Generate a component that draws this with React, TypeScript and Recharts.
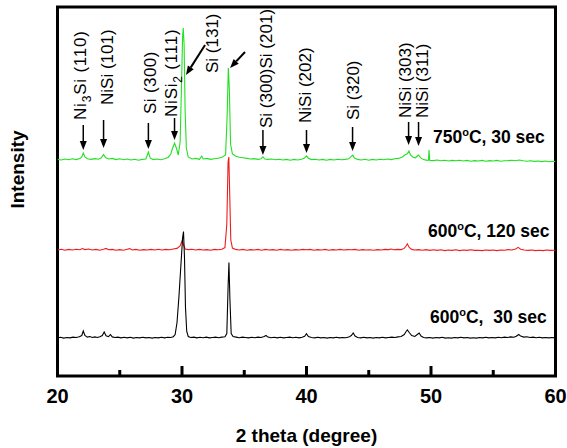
import React from 'react';
import { LineChart, Line, XAxis, YAxis, ReferenceArea, ReferenceLine, ReferenceDot } from 'recharts';

const FONT = '"Liberation Sans", Arial, Helvetica, sans-serif';

// 2θ (degree) vs. counts above background, one scan per anneal
const SCAN_600C_30S: [number, number][] = [
  [20.0, -4], [20.25, 2], [20.5, -6], [20.75, 0], [21.0, -4], [21.25, 4], [21.5, 0], [21.75, 8], [21.95, 20],
  [22.07, 65], [22.2, 20], [22.4, 4], [22.6, 10], [22.8, 0], [23.0, 6], [23.2, 0], [23.4, 8], [23.6, 20],
  [23.75, 55], [23.9, 18], [24.1, 8], [24.25, 30], [24.4, 6], [24.6, 0], [24.85, 4], [25.1, -4], [25.35, 2],
  [25.6, -4], [25.85, 2], [26.1, -6], [26.35, 0], [26.6, -4], [26.85, 2], [27.1, -4], [27.35, 0], [27.6, -6],
  [27.85, 0], [28.1, -4], [28.35, 2], [28.6, -4], [28.85, 2], [29.1, 0], [29.3, 8], [29.45, 30], [29.6, 150],
  [29.75, 400], [29.9, 700], [30.05, 1000], [30.12, 1060], [30.2, 800], [30.28, 300], [30.38, 60], [30.5, 10],
  [30.7, 0], [30.95, 4], [31.2, -4], [31.45, 2], [31.7, -2], [31.95, 4], [32.2, -4], [32.45, 0], [32.7, 4],
  [32.95, -2], [33.2, 4], [33.45, 8], [33.6, 40], [33.7, 500], [33.77, 750], [33.85, 380], [33.95, 40],
  [34.1, 10], [34.35, 4], [34.6, -2], [34.85, 4], [35.1, 0], [35.35, -4], [35.6, 2], [35.85, -2], [36.1, 4],
  [36.35, 0], [36.6, 10], [36.75, 20], [36.9, 4], [37.15, -2], [37.4, 2], [37.65, -4], [37.9, 2], [38.15, -4],
  [38.4, 0], [38.65, 4], [38.9, -2], [39.15, 2], [39.4, -4], [39.65, 2], [39.85, 12], [40.0, 38], [40.15, 10],
  [40.4, 0], [40.65, -4], [40.9, 2], [41.15, -4], [41.4, 0], [41.65, -6], [41.9, 0], [42.15, -4], [42.4, 2],
  [42.65, -4], [42.9, 0], [43.15, -2], [43.4, 4], [43.6, 20], [43.75, 45], [43.9, 14], [44.1, 0], [44.35, -4],
  [44.6, 2], [44.85, -4], [45.1, 0], [45.35, -6], [45.6, 0], [45.85, -4], [46.1, 2], [46.35, -4], [46.6, 0],
  [46.85, 4], [47.1, 0], [47.35, 6], [47.6, 10], [47.85, 30], [48.0, 60], [48.1, 75], [48.25, 50], [48.45, 20],
  [48.7, 10], [48.9, 30], [49.05, 45], [49.2, 14], [49.4, 0], [49.65, -4], [49.9, 0], [50.15, -6], [50.4, 0],
  [50.65, -4], [50.9, 2], [51.15, -6], [51.4, -2], [51.65, -6], [51.9, 0], [52.15, -4], [52.4, 2], [52.65, -4],
  [52.9, 0], [53.15, -6], [53.4, -2], [53.65, -6], [53.9, 0], [54.15, -4], [54.4, 2], [54.65, -4], [54.9, 0],
  [55.15, -4], [55.4, 2], [55.65, -2], [55.9, 4], [56.15, 0], [56.4, 6], [56.65, 2], [56.85, 12], [57.05, 30],
  [57.2, 14], [57.45, 4], [57.7, 8], [57.95, 0], [58.2, 4], [58.45, -2], [58.7, 2], [58.95, -4], [59.2, 0],
  [59.45, -4], [59.7, 0], [60.0, -2],
];

const SCAN_600C_120S: [number, number][] = [
  [20.0, 0], [20.3, 8], [20.6, -2], [20.9, 6], [21.2, 0], [21.5, 8], [21.8, 2], [22.0, 14], [22.2, 4],
  [22.5, 10], [22.8, 0], [23.1, 6], [23.4, -2], [23.7, 8], [23.9, 16], [24.1, 2], [24.4, 6], [24.7, -2],
  [25.0, 4], [25.3, -2], [25.6, 8], [25.8, 14], [26.0, 0], [26.3, 6], [26.6, -2], [26.9, 4], [27.2, 0],
  [27.5, 6], [27.8, 0], [28.1, 8], [28.4, 0], [28.7, 6], [29.0, 2], [29.3, 10], [29.6, 16], [29.85, 40],
  [30.0, 90], [30.1, 60], [30.25, 10], [30.5, 4], [30.8, 8], [31.1, 0], [31.4, 6], [31.7, 0], [32.0, 4],
  [32.3, -2], [32.6, 6], [32.9, 2], [33.2, 8], [33.45, 24], [33.6, 260], [33.7, 880], [33.76, 930],
  [33.84, 520], [33.92, 100], [34.05, 20], [34.3, 6], [34.6, 0], [34.9, 6], [35.2, -2], [35.5, 4], [35.8, 0],
  [36.1, 6], [36.4, -2], [36.7, 6], [37.0, 0], [37.3, 4], [37.6, -2], [37.9, 6], [38.2, 0], [38.5, 4],
  [38.8, -2], [39.1, 4], [39.4, 0], [39.7, 6], [40.0, 2], [40.3, 6], [40.6, -2], [40.9, 4], [41.2, 0],
  [41.5, 6], [41.8, -2], [42.1, 4], [42.4, 0], [42.7, 6], [43.0, 0], [43.3, 4], [43.6, 2], [43.9, 6],
  [44.2, -2], [44.5, 4], [44.8, 0], [45.1, 2], [45.4, -2], [45.7, 4], [46.0, 0], [46.3, 6], [46.6, 4],
  [46.8, 10], [47.0, 2], [47.3, 6], [47.6, 4], [47.85, 16], [48.0, 40], [48.1, 62], [48.25, 26], [48.45, 6],
  [48.7, 0], [49.0, 4], [49.3, -2], [49.6, 4], [49.9, -4], [50.2, 2], [50.5, -4], [50.8, 2], [51.1, -6],
  [51.4, 0], [51.7, -4], [52.0, 2], [52.3, -6], [52.6, 0], [52.9, -4], [53.2, 2], [53.5, -4], [53.8, -2],
  [54.1, -6], [54.4, 0], [54.7, -4], [55.0, 0], [55.3, -6], [55.6, 0], [55.9, -2], [56.2, 4], [56.5, 0],
  [56.8, 10], [57.0, 26], [57.2, 8], [57.5, 0], [57.8, -4], [58.1, 0], [58.4, -6], [58.7, -2], [59.0, -6],
  [59.3, 0], [59.6, -4], [60.0, -2],
];

const SCAN_750C_30S: [number, number][] = [
  [20.0, 6], [20.3, 0], [20.6, 10], [20.9, 2], [21.2, 12], [21.5, 4], [21.8, 14], [21.95, 30], [22.07, 70],
  [22.2, 30], [22.4, 12], [22.7, 6], [23.0, 14], [23.3, 8], [23.5, 20], [23.7, 55], [23.85, 24], [24.1, 10],
  [24.4, 16], [24.7, 4], [25.0, 12], [25.3, 2], [25.6, 10], [25.9, 0], [26.2, 8], [26.5, -2], [26.8, 6],
  [27.1, 10], [27.3, 80], [27.45, 18], [27.7, 4], [28.0, 10], [28.3, 2], [28.6, 12], [28.9, 28], [29.1, 60],
  [29.25, 120], [29.4, 170], [29.55, 120], [29.7, 50], [29.85, 180], [29.95, 700], [30.05, 1240], [30.1, 1320],
  [30.17, 1150], [30.25, 500], [30.35, 120], [30.5, 30], [30.8, 10], [31.1, 16], [31.4, 6], [31.58, 40],
  [31.7, 10], [32.0, 16], [32.3, 6], [32.6, 12], [32.9, 18], [33.2, 28], [33.5, 50], [33.62, 420],
  [33.72, 920], [33.8, 720], [33.9, 160], [34.05, 60], [34.3, 40], [34.6, 28], [34.9, 22], [35.2, 16],
  [35.5, 10], [35.8, 14], [36.1, 6], [36.35, 12], [36.5, 32], [36.65, 10], [36.9, 6], [37.2, 10], [37.5, 2],
  [37.8, 8], [38.1, 0], [38.4, 6], [38.7, -2], [39.0, 6], [39.3, 0], [39.6, 8], [39.85, 20], [40.0, 42],
  [40.15, 18], [40.4, 4], [40.7, 8], [41.0, 0], [41.3, 6], [41.6, -2], [41.9, 6], [42.2, 0], [42.5, 8],
  [42.8, 2], [43.1, 6], [43.4, 12], [43.6, 36], [43.72, 48], [43.85, 20], [44.1, 6], [44.4, 0], [44.7, 8],
  [45.0, -2], [45.3, 6], [45.6, 0], [45.9, 8], [46.2, 2], [46.5, 10], [46.8, 4], [47.1, 12], [47.4, 16],
  [47.7, 30], [47.95, 55], [48.1, 62], [48.23, 90], [48.35, 50], [48.55, 28], [48.75, 22], [48.9, 40],
  [49.0, 50], [49.15, 24], [49.4, 4], [49.7, -4], [49.8, 0], [49.84, 100], [49.9, -4], [50.2, -6], [50.5, 0],
  [50.8, -8], [51.1, -2], [51.4, -10], [51.7, -4], [52.0, -8], [52.3, -2], [52.6, -10], [52.9, -4],
  [53.2, -12], [53.5, -6], [53.8, -10], [54.1, -4], [54.4, -12], [54.7, -6], [55.0, -10], [55.3, -4],
  [55.6, -12], [55.9, -8], [56.2, -6], [56.5, -2], [56.8, -8], [57.1, 0], [57.4, -8], [57.7, -12], [58.0, -8],
  [58.3, -14], [58.6, -10], [58.9, -16], [59.2, -10], [59.5, -18], [59.8, -12], [60.0, -16],
];

// vertical offsets used to stack the scans
const OFFSET_600C_30S = 385;
const OFFSET_600C_120S = 1260;
const OFFSET_750C_30S = 2160;

const Y_MAX = 3690;
const X_TICKS = [20, 25, 30, 35, 40, 45, 50, 55, 60];
const MAJOR_TICKS = [20, 30, 40, 50, 60];

// vertical markers over the 750 °C peaks: [2θ, tail, tip]
const PEAK_ARROWS: [number, number, number][] = [
  [22.07, 2510, 2260], [23.7, 2560, 2280], [27.3, 2530, 2270], [29.4, 2580, 2360],
  [36.5, 2460, 2210], [40.0, 2460, 2230], [43.7, 2490, 2250], [48.2, 2540, 2310], [49.0, 2540, 2300],
];

// slanted pointers to the two strong reflections: [2θ tail, y tail, 2θ tip, y tip]
const PEAK_POINTERS: [number, number, number, number][] = [
  [31.85, 3310, 30.32, 3010],
  [35.06, 3240, 33.86, 3080],
];

// reflection labels (pre, subscript, post), anchored at the start of the rotated text
const PHASE_LABELS = [
  { pre: 'Ni', sub: '3', post: 'Si (110)', theta: 21.81, y: 2560, spacing: 0.8 },
  { pre: 'NiSi (101)', sub: '', post: '', theta: 23.98, y: 2710, spacing: 0 },
  { pre: 'Si (300)', sub: '', post: '', theta: 27.43, y: 2620, spacing: 0.4 },
  { pre: 'NiSi', sub: '2', post: ' (111)', theta: 29.12, y: 2590, spacing: 0.8 },
  { pre: 'Si (131)', sub: '', post: '', theta: 32.41, y: 3030, spacing: 0 },
  { pre: 'Si (300)Si (201)', sub: '', post: '', theta: 36.75, y: 2480, spacing: 0 },
  { pre: 'NiSi (202)', sub: '', post: '', theta: 39.88, y: 2530, spacing: 0 },
  { pre: 'Si (320)', sub: '', post: '', theta: 43.73, y: 2560, spacing: 0 },
  { pre: 'NiSi (303)', sub: '', post: '', theta: 47.91, y: 2580, spacing: 0 },
  { pre: 'NiSi (311)', sub: '', post: '', theta: 49.28, y: 2580, spacing: 0 },
];

const SCAN_LABELS = [
  { temp: '750', rest: 'C, 30 sec', theta: 50.16, y: 2330 },
  { temp: '600', rest: 'C, 120 sec', theta: 49.76, y: 1390 },
  { temp: '600', rest: 'C,\u00a0 30 sec', theta: 49.92, y: 533 },
];

const stack = (scan: [number, number][], offset: number) =>
  scan.map(([theta, counts]) => ({ theta, y: counts + offset }));

function XTick({ x, y, payload }: any) {
  const major = MAJOR_TICKS.includes(payload.value);
  return (
    <g>
      <line x1={x} x2={x} y1={y} y2={y - (major ? 10 : 6)} stroke="#000" strokeWidth={3} />
      {major && (
        <text x={x} y={y + 27} textAnchor="middle" fontFamily={FONT} fontWeight="bold" fontSize={20} fill="#000">
          {payload.value}
        </text>
      )}
    </g>
  );
}

function XTitle({ viewBox }: any) {
  return (
    <text x={viewBox.x + viewBox.width / 2} y={viewBox.y + 66} textAnchor="middle"
      fontFamily={FONT} fontWeight="bold" fontSize={19} fill="#000">
      2 theta (degree)
    </text>
  );
}

function YTitle({ viewBox }: any) {
  const x = 17.5;
  const y = viewBox.y + viewBox.height / 2 - 22;
  return (
    <text x={x} y={y} transform={`rotate(-90 ${x} ${y})`} textAnchor="middle" dy="0.35em"
      fontFamily={FONT} fontWeight="bold" fontSize={19} fill="#000">
      Intensity
    </text>
  );
}

function Arrow({ x1, y1, x2, y2, width }: any) {
  const dx = x2 - x1;
  const dy = y2 - y1;
  const len = Math.hypot(dx, dy) || 1;
  const ux = dx / len;
  const uy = dy / len;
  const bx = x2 - ux * 9;
  const by = y2 - uy * 9;
  const h = 3.5;
  return (
    <g>
      <line x1={x1} y1={y1} x2={bx} y2={by} stroke="#000" strokeWidth={width} />
      <polygon points={`${x2},${y2} ${bx - uy * h},${by + ux * h} ${bx + uy * h},${by - ux * h}`} fill="#000" />
    </g>
  );
}

function PhaseText({ cx, cy, pre, sub, post, spacing }: any) {
  return (
    <text x={cx} y={cy} transform={`rotate(-90 ${cx} ${cy})`} dy="0.35em" textAnchor="start"
      fontFamily={FONT} fontSize={17} letterSpacing={spacing} fill="#000">
      {pre}
      {sub && <tspan fontSize={12} dy={5}>{sub}</tspan>}
      {post && <tspan dy={sub ? -5 : 0}>{post}</tspan>}
    </text>
  );
}

function ScanText({ cx, cy, temp, rest }: any) {
  return (
    <text x={cx} y={cy} textAnchor="start" fontFamily={FONT} fontWeight="bold" fontSize={17.5} fill="#000">
      {temp}
      <tspan fontSize={11} dy={-7}>o</tspan>
      <tspan dy={7}>{rest}</tspan>
    </text>
  );
}

export default function App() {
  return (
    <div style={{ position: 'absolute', left: 0, top: 0, width: 567, height: 448, background: '#fff' }}>
      <LineChart width={567} height={448} margin={{ top: 7, right: 11.5, bottom: 0, left: 0 }}>
        <XAxis dataKey="theta" type="number" domain={[20, 60]} ticks={X_TICKS} interval={0}
          tickLine={false} axisLine={false} tickSize={0} tickMargin={0} tick={<XTick />}
          height={72} allowDataOverflow label={<XTitle />} />
        <YAxis type="number" domain={[0, Y_MAX]} tick={false} tickLine={false} axisLine={false}
          width={57.5} allowDataOverflow label={<YTitle />} />
        <ReferenceArea x1={20} x2={60} y1={0} y2={Y_MAX} fill="none" stroke="#000" strokeWidth={3}
          ifOverflow="visible" />
        <Line data={stack(SCAN_600C_120S, OFFSET_600C_120S)} dataKey="y" type="linear" stroke="#ee1c1c"
          strokeWidth={1.1} dot={false} isAnimationActive={false} />
        <Line data={stack(SCAN_600C_30S, OFFSET_600C_30S)} dataKey="y" type="linear" stroke="#000"
          strokeWidth={1.1} dot={false} isAnimationActive={false} />
        <Line data={stack(SCAN_750C_30S, OFFSET_750C_30S)} dataKey="y" type="linear" stroke="#22e022"
          strokeWidth={1.1} dot={false} isAnimationActive={false} />
        {PEAK_ARROWS.map(([theta, tail, tip], i) => (
          <ReferenceLine key={`a${i}`} segment={[{ x: theta, y: tail }, { x: theta, y: tip }]}
            shape={(p: any) => <Arrow {...p} width={1.5} />} ifOverflow="visible" />
        ))}
        {PEAK_POINTERS.map(([t1, y1, t2, y2], i) => (
          <ReferenceLine key={`p${i}`} segment={[{ x: t1, y: y1 }, { x: t2, y: y2 }]}
            shape={(p: any) => <Arrow {...p} width={2} />} ifOverflow="visible" />
        ))}
        {PHASE_LABELS.map((l, i) => (
          <ReferenceDot key={`l${i}`} x={l.theta} y={l.y} r={1} ifOverflow="visible"
            shape={(p: any) => (
              <PhaseText cx={p.cx} cy={p.cy} pre={l.pre} sub={l.sub} post={l.post} spacing={l.spacing} />
            )} />
        ))}
        {SCAN_LABELS.map((l, i) => (
          <ReferenceDot key={`s${i}`} x={l.theta} y={l.y} r={1} ifOverflow="visible"
            shape={(p: any) => <ScanText cx={p.cx} cy={p.cy} temp={l.temp} rest={l.rest} />} />
        ))}
      </LineChart>
    </div>
  );
}
